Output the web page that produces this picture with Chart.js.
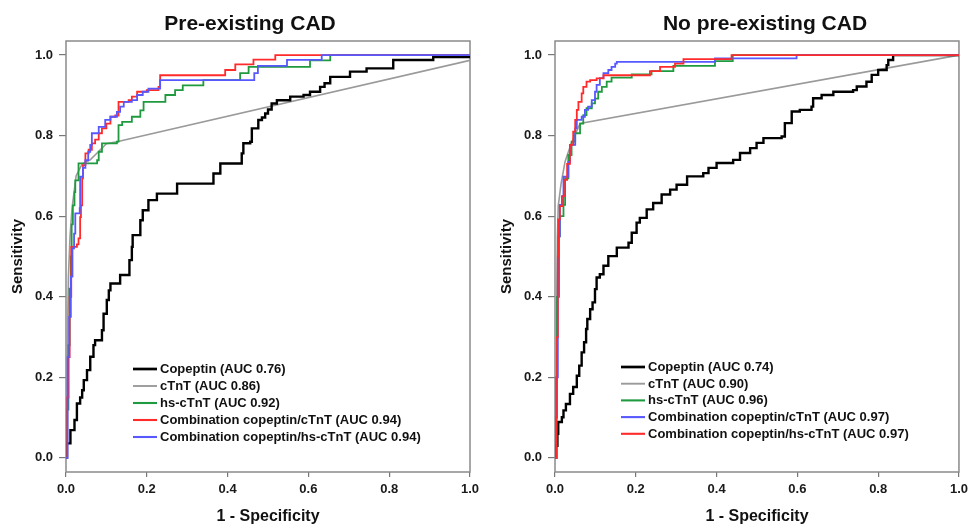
<!DOCTYPE html>
<html>
<head>
<meta charset="utf-8">
<script src="https://cdn.jsdelivr.net/npm/chart.js@4.4.1/dist/chart.umd.min.js"></script>
<style>
  html, body { margin: 0; padding: 0; background: #fff; }
  #wrap { position: relative; width: 970px; height: 524px; overflow: hidden; }
  .panel { position: absolute; top: 0; height: 524px; }
  #panel-pre { left: 0; width: 489px; }
  #panel-nopre { left: 489px; width: 484px; }
</style>
</head>
<body>
<div id="wrap">
  <div class="panel" id="panel-pre"><canvas id="chart-pre"></canvas></div>
  <div class="panel" id="panel-nopre"><canvas id="chart-nopre"></canvas></div>
</div>
<script>
// ── Data: ROC points as [1 - specificity, sensitivity] ─────────────────────────

const X_TICKS = [0, 0.2, 0.4, 0.6, 0.8, 1.0];
const Y_TICKS = [0, 0.2, 0.4, 0.6, 0.8, 1.0];

// Pre-existing CAD
const preLabels = [
  'Copeptin (AUC 0.76)',
  'cTnT (AUC 0.86)',
  'hs-cTnT (AUC 0.92)',
  'Combination copeptin/cTnT (AUC 0.94)',
  'Combination copeptin/hs-cTnT (AUC 0.94)'
];
const preCopeptin = [[0,0],[0.002,0.036],[0.011,0.069],[0.021,0.094],[0.027,0.135],[0.035,0.15],[0.040,0.168],[0.044,0.193],[0.052,0.218],[0.060,0.251],[0.068,0.28],[0.072,0.292],[0.089,0.317],[0.093,0.358],[0.101,0.392],[0.106,0.416],[0.110,0.433],[0.134,0.454],[0.157,0.491],[0.163,0.524],[0.165,0.553],[0.184,0.590],[0.190,0.615],[0.204,0.640],[0.225,0.656],[0.275,0.681],[0.365,0.706],[0.382,0.731],[0.435,0.756],[0.439,0.781],[0.456,0.785],[0.460,0.818],[0.476,0.839],[0.485,0.845],[0.493,0.855],[0.500,0.865],[0.509,0.880],[0.522,0.888],[0.555,0.897],[0.588,0.901],[0.604,0.909],[0.629,0.921],[0.640,0.93],[0.654,0.946],[0.703,0.959],[0.744,0.967],[0.810,0.988],[0.909,0.995],[1,1]];
const preCtnt = [[0,0],[0.003,0.25],[0.006,0.45],[0.01,0.55],[0.015,0.62],[0.025,0.7],[0.04,0.73],[0.06,0.74],[0.08,0.76],[0.1,0.78],[0.126,0.785],[1,0.987]];
const preHsCtnt = [[0,0],[0.003,0.12],[0.006,0.28],[0.009,0.42],[0.012,0.5],[0.014,0.58],[0.017,0.627],[0.021,0.66],[0.023,0.689],[0.031,0.731],[0.077,0.739],[0.081,0.760],[0.089,0.781],[0.126,0.785],[0.130,0.826],[0.139,0.834],[0.163,0.847],[0.184,0.863],[0.192,0.884],[0.246,0.901],[0.270,0.913],[0.289,0.925],[0.340,0.938],[0.431,0.955],[0.452,0.971],[0.604,0.987],[0.654,1],[1,1]];
const preComboCtnt = [[0,0],[0.003,0.15],[0.006,0.25],[0.009,0.4],[0.013,0.524],[0.027,0.53],[0.031,0.545],[0.035,0.598],[0.037,0.627],[0.040,0.694],[0.042,0.727],[0.048,0.756],[0.056,0.765],[0.064,0.781],[0.072,0.79],[0.081,0.806],[0.089,0.818],[0.1,0.83],[0.110,0.847],[0.122,0.85],[0.130,0.884],[0.155,0.888],[0.163,0.897],[0.176,0.909],[0.2,0.913],[0.229,0.921],[0.233,0.95],[0.394,0.963],[0.419,0.977],[0.464,0.989],[0.518,1],[1,1]];
const preComboHs = [[0,0],[0.004,0.25],[0.008,0.35],[0.012,0.45],[0.016,0.52],[0.02,0.557],[0.023,0.607],[0.034,0.62],[0.035,0.698],[0.042,0.72],[0.048,0.739],[0.055,0.76],[0.060,0.777],[0.064,0.806],[0.081,0.822],[0.097,0.839],[0.110,0.847],[0.126,0.859],[0.134,0.872],[0.143,0.884],[0.163,0.888],[0.176,0.901],[0.190,0.909],[0.204,0.917],[0.233,0.938],[0.466,0.955],[0.475,0.973],[0.547,0.988],[0.633,1],[1,1]];

// No pre-existing CAD
const noLabels = [
  'Copeptin (AUC 0.74)',
  'cTnT (AUC 0.90)',
  'hs-cTnT (AUC 0.96)',
  'Combination copeptin/cTnT (AUC 0.97)',
  'Combination copeptin/hs-cTnT (AUC 0.97)'
];
const noCopeptin = [[0,0],[0.003,0.03],[0.006,0.06],[0.008,0.089],[0.017,0.101],[0.021,0.118],[0.027,0.134],[0.037,0.159],[0.045,0.176],[0.054,0.204],[0.060,0.229],[0.066,0.262],[0.072,0.287],[0.077,0.320],[0.080,0.345],[0.087,0.369],[0.093,0.386],[0.099,0.419],[0.103,0.448],[0.111,0.456],[0.120,0.477],[0.132,0.501],[0.153,0.522],[0.182,0.534],[0.190,0.559],[0.202,0.584],[0.210,0.596],[0.227,0.617],[0.243,0.633],[0.264,0.654],[0.285,0.666],[0.301,0.678],[0.327,0.699],[0.367,0.707],[0.380,0.720],[0.400,0.732],[0.441,0.740],[0.458,0.757],[0.483,0.769],[0.499,0.782],[0.516,0.794],[0.561,0.798],[0.569,0.831],[0.586,0.860],[0.606,0.864],[0.635,0.872],[0.639,0.893],[0.660,0.901],[0.689,0.909],[0.738,0.913],[0.747,0.922],[0.771,0.934],[0.784,0.951],[0.800,0.963],[0.821,0.975],[0.825,0.988],[0.837,1],[1,1]];
const noCtnt = [[0,0],[0.003,0.3],[0.006,0.55],[0.008,0.625],[0.015,0.68],[0.025,0.736],[0.04,0.78],[0.062,0.83],[1,1]];
const noHsCtnt = [[0,0],[0.003,0.2],[0.005,0.4],[0.008,0.55],[0.012,0.6],[0.021,0.628],[0.025,0.694],[0.033,0.752],[0.041,0.785],[0.050,0.806],[0.062,0.830],[0.070,0.851],[0.078,0.868],[0.091,0.880],[0.099,0.892],[0.107,0.909],[0.116,0.921],[0.128,0.934],[0.140,0.944],[0.190,0.952],[0.239,0.960],[0.293,0.973],[0.396,0.985],[0.44,1],[1,1]];
const noComboCtnt = [[0,0],[0.004,0.2],[0.007,0.4],[0.01,0.55],[0.012,0.628],[0.017,0.65],[0.021,0.698],[0.033,0.735],[0.037,0.777],[0.050,0.818],[0.054,0.839],[0.066,0.847],[0.074,0.864],[0.082,0.872],[0.091,0.888],[0.099,0.909],[0.103,0.926],[0.111,0.943],[0.120,0.955],[0.132,0.963],[0.140,0.971],[0.149,0.979],[0.153,0.983],[0.396,0.992],[0.598,1],[1,1]];
const noComboHs = [[0,0],[0.003,0.1],[0.005,0.3],[0.007,0.5],[0.008,0.592],[0.012,0.625],[0.02,0.65],[0.025,0.69],[0.03,0.73],[0.037,0.777],[0.045,0.810],[0.050,0.839],[0.054,0.864],[0.058,0.884],[0.066,0.905],[0.070,0.921],[0.078,0.934],[0.087,0.938],[0.103,0.942],[0.12,0.950],[0.235,0.960],[0.260,0.971],[0.297,0.979],[0.318,0.990],[0.437,1],[1,1]];

// ── Styles ────────────────────────────────────────────────────────────────────

const FONT = '"Liberation Sans", Arial, sans-serif';
const BLACK = '#000000', GRAY = '#9a9a9a', GREEN = '#1f9a3e', RED = '#ff2b2b', BLUE = '#5858ff';

// ── Plugins ───────────────────────────────────────────────────────────────────

const framePlugin = {
  id: 'frame',
  beforeDatasetsDraw(chart) {
    const { ctx, chartArea: a } = chart;
    ctx.save();
    ctx.strokeStyle = '#8a8a8a';
    ctx.lineWidth = 1.5;
    ctx.strokeRect(a.left, a.top, a.right - a.left, a.bottom - a.top);
    ctx.restore();
  }
};

const panelTitle = {
  id: 'panelTitle',
  afterDraw(chart, args, opts) {
    const { ctx, chartArea: a } = chart;
    ctx.save();
    ctx.font = `bold 21px ${FONT}`;
    ctx.fillStyle = '#111';
    ctx.textAlign = 'center';
    ctx.textBaseline = 'middle';
    ctx.fillText(opts.text, (a.left + a.right) / 2 + opts.shift, opts.y);
    ctx.restore();
  }
};

// Legend drawn inside the plot, like the original figure
const rocLegend = {
  id: 'rocLegend',
  afterDraw(chart, args, opts) {
    const { ctx, chartArea: a } = chart;
    ctx.save();
    ctx.font = `bold 13px ${FONT}`;
    ctx.fillStyle = '#111';
    ctx.textBaseline = 'middle';
    chart.data.datasets.forEach((ds, i) => {
      const y = opts.top + i * opts.gap;
      const x0 = a.left + opts.dx;
      ctx.strokeStyle = ds.borderColor;
      ctx.lineWidth = ds.borderWidth + 0.3;
      ctx.beginPath();
      ctx.moveTo(x0, y);
      ctx.lineTo(x0 + 24, y);
      ctx.stroke();
      ctx.fillText(ds.label, x0 + 27, y + 0.5);
    });
    ctx.restore();
  }
};

// ── Chart builder ─────────────────────────────────────────────────────────────

function makeDataset(label, points, color, width, order, stepped) {
  return {
    label,
    data: points.map(([x, y]) => ({ x, y })),
    borderColor: color,
    backgroundColor: color,
    borderWidth: width,
    pointRadius: 0,
    stepped: stepped ? 'before' : false,
    tension: 0,
    fill: false,
    order
  };
}

function makeChart(canvasId, cfg) {
  const tickFont = { family: FONT, size: 13, weight: 'bold' };
  const titleFont = { family: FONT, size: 15, weight: 'bold' };
  return new Chart(document.getElementById(canvasId), {
    type: 'line',
    data: { datasets: cfg.datasets },
    options: {
      responsive: true,
      maintainAspectRatio: false,
      animation: false,
      events: [],
      layout: { padding: { top: 41, right: cfg.padRight, bottom: 0, left: 0 } },
      plugins: {
        legend: { display: false },
        tooltip: { enabled: false },
        panelTitle: { text: cfg.title, shift: cfg.titleShift, y: 24 },
        rocLegend: cfg.legend
      },
      scales: {
        x: {
          type: 'linear',
          min: 0,
          max: 1,
          afterFit: s => { s.height = 52; },
          afterBuildTicks: s => { s.ticks = X_TICKS.map(v => ({ value: v })); },
          ticks: { callback: v => v.toFixed(1), font: tickFont, color: '#1a1a1a', padding: 5, maxRotation: 0, autoSkip: false },
          grid: { drawOnChartArea: false, drawTicks: true, tickLength: 5, color: '#777', lineWidth: 1.2 },
          border: { display: false },
          title: { display: true, text: '1 - Specificity', font: { ...titleFont, size: 16 }, color: '#111', padding: { top: 0, bottom: -2 } }
        },
        y: {
          type: 'linear',
          min: -0.035,
          max: 1.035,
          afterFit: s => { s.width = 66; },
          afterBuildTicks: s => { s.ticks = Y_TICKS.map(v => ({ value: v })); },
          ticks: { callback: v => v.toFixed(1), font: tickFont, color: '#1a1a1a', padding: 6, autoSkip: false },
          grid: { drawOnChartArea: false, drawTicks: true, tickLength: 7, color: '#777', lineWidth: 1.2 },
          border: { display: false },
          title: { display: true, text: 'Sensitivity', font: titleFont, color: '#111', padding: { top: 9, bottom: 0 } }
        }
      }
    },
    plugins: [framePlugin, panelTitle, rocLegend]
  });
}

// ── Boot ──────────────────────────────────────────────────────────────────────

// order: lower numbers are painted last (on top)
makeChart('chart-pre', {
  title: 'Pre-existing CAD',
  titleShift: -18,
  padRight: 19,
  legend: { dx: 67, top: 369, gap: 17 },
  datasets: [
    makeDataset(preLabels[0], preCopeptin, BLACK, 2.4, 4, true),
    makeDataset(preLabels[1], preCtnt, GRAY, 1.6, 5, false),
    makeDataset(preLabels[2], preHsCtnt, GREEN, 1.8, 3, true),
    makeDataset(preLabels[3], preComboCtnt, RED, 1.8, 2, true),
    makeDataset(preLabels[4], preComboHs, BLUE, 1.8, 1, true)
  ]
});

makeChart('chart-nopre', {
  title: 'No pre-existing CAD',
  titleShift: 8,
  padRight: 8,
  legend: { dx: 66, top: 367, gap: 16.7 },
  datasets: [
    makeDataset(noLabels[0], noCopeptin, BLACK, 2.4, 4, true),
    makeDataset(noLabels[1], noCtnt, GRAY, 1.6, 5, false),
    makeDataset(noLabels[2], noHsCtnt, GREEN, 1.8, 3, true),
    makeDataset(noLabels[3], noComboCtnt, BLUE, 1.8, 2, true),
    makeDataset(noLabels[4], noComboHs, RED, 1.8, 1, true)
  ]
});
</script>
</body>
</html>
